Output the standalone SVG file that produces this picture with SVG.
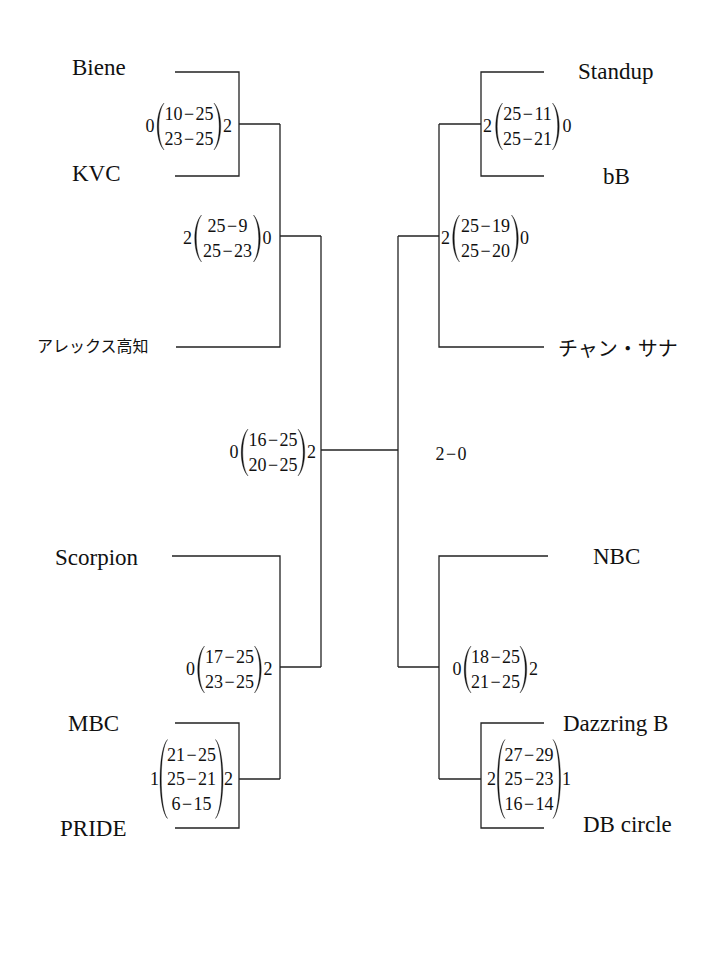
<svg xmlns="http://www.w3.org/2000/svg" xmlns:xlink="http://www.w3.org/1999/xlink" width="720" height="960" viewBox="0 0 720 960">
<style>
.ln{fill:none;stroke:#222;stroke-width:1.3}
.nm{font-size:23px;fill:#111}
.jp{fill:#111}
.sc{font-size:18px;fill:#111;text-anchor:middle;word-spacing:-3px}
.pr{fill:#111;stroke:#111;stroke-width:0.35}
</style>
<defs>
<path id="p2" class="pr" d="M0,-23.5 C-9,-14 -9,14 0,23.5 C-7,14 -7,-14 0,-23.5 Z"/>
<path id="p3" class="pr" d="M0,-39.5 C-10,-29 -10,29 0,39.5 C-8.3,29 -8.3,-29 0,-39.5 Z"/>
</defs>
<rect width="720" height="960" fill="#fff"/>

<g id="connectors">
<path class="ln" d="M175,72 H239 V176 H175"/>
<path class="ln" d="M239,124 H280"/>
<path class="ln" d="M176,347 H280 V124"/>
<path class="ln" d="M280,236 H321"/>
<path class="ln" d="M321,236 V667"/>
<path class="ln" d="M172,556 H280 V779"/>
<path class="ln" d="M280,667 H321"/>
<path class="ln" d="M175,723 H239 V828 H175"/>
<path class="ln" d="M239,779 H280"/>
<path class="ln" d="M321,450 H398"/>
<path class="ln" d="M398,236 V667"/>
<path class="ln" d="M398,236 H439"/>
<path class="ln" d="M439,124 V347 H544"/>
<path class="ln" d="M439,124 H481"/>
<path class="ln" d="M544,72 H481 V176 H544"/>
<path class="ln" d="M398,667 H439"/>
<path class="ln" d="M548,556 H439 V779"/>
<path class="ln" d="M439,779 H481"/>
<path class="ln" d="M544,723 H481 V828 H544"/>
</g>

<g font-family="'Liberation Serif', 'Times New Roman', serif">
<g id="team-biene"><text class="nm" x="72" y="75">Biene</text></g>
<g id="team-kvc"><text class="nm" x="72" y="181">KVC</text></g>
<g id="team-scorpion"><text class="nm" x="55" y="565">Scorpion</text></g>
<g id="team-mbc"><text class="nm" x="68" y="731">MBC</text></g>
<g id="team-pride"><text class="nm" x="60" y="836">PRIDE</text></g>
<g id="team-standup"><text class="nm" x="578" y="79">Standup</text></g>
<g id="team-bb"><text class="nm" x="603" y="184">bB</text></g>
<g id="team-nbc"><text class="nm" x="593" y="564">NBC</text></g>
<g id="team-dazzring"><text class="nm" x="563" y="731">Dazzring B</text></g>
<g id="team-dbcircle"><text class="nm" x="583" y="832">DB circle</text></g>
</g>
<g font-family="'Noto Sans CJK JP', 'Noto Sans', sans-serif">
<g id="team-alex"><text class="jp" x="37" y="352" font-size="16">アレックス高知</text></g>
<g id="team-chan"><text class="jp" x="558" y="356" font-size="20">チャン・サナ</text></g>
</g>

<g font-family="'Liberation Serif', 'Times New Roman', serif">
<g id="score-1" transform="translate(189,124)">
<text class="sc" x="-39" y="7.5">0</text>
<use xlink:href="#p2" transform="translate(-25,2.5)"/>
<text class="sc" x="0" y="-4">10 − 25</text>
<text class="sc" x="0" y="20.5">23 − 25</text>
<use xlink:href="#p2" transform="translate(25,2.5) scale(-1,1)"/>
<text class="sc" x="38.5" y="7.5">2</text>
</g>

<g id="score-2" transform="translate(227.5,236)">
<text class="sc" x="-40" y="7.5">2</text>
<use xlink:href="#p2" transform="translate(-26,2.5)"/>
<text class="sc" x="0" y="-4">25 − 9</text>
<text class="sc" x="0" y="20.5">25 − 23</text>
<use xlink:href="#p2" transform="translate(26,2.5) scale(-1,1)"/>
<text class="sc" x="39.5" y="7.5">0</text>
</g>

<g id="score-3" transform="translate(273,450)">
<text class="sc" x="-39" y="7.5">0</text>
<use xlink:href="#p2" transform="translate(-25,2.5)"/>
<text class="sc" x="0" y="-4">16 − 25</text>
<text class="sc" x="0" y="20.5">20 − 25</text>
<use xlink:href="#p2" transform="translate(25,2.5) scale(-1,1)"/>
<text class="sc" x="38.5" y="7.5">2</text>
</g>

<g id="final-score"><text class="sc" x="451" y="460">2 − 0</text></g>

<g id="score-4" transform="translate(229.5,667)">
<text class="sc" x="-39" y="7.5">0</text>
<use xlink:href="#p2" transform="translate(-25,2.5)"/>
<text class="sc" x="0" y="-4">17 − 25</text>
<text class="sc" x="0" y="20.5">23 − 25</text>
<use xlink:href="#p2" transform="translate(25,2.5) scale(-1,1)"/>
<text class="sc" x="38.5" y="7.5">2</text>
</g>

<g id="score-5" transform="translate(191.5,779)">
<text class="sc" x="-37" y="6">1</text>
<use xlink:href="#p3" transform="translate(-24,0)"/>
<text class="sc" x="0" y="-18">21 − 25</text>
<text class="sc" x="0" y="6">25 − 21</text>
<text class="sc" x="0" y="31">6 − 15</text>
<use xlink:href="#p3" transform="translate(24,0) scale(-1,1)"/>
<text class="sc" x="37" y="6">2</text>
</g>

<g id="score-6" transform="translate(527.5,124)">
<text class="sc" x="-40" y="7.5">2</text>
<use xlink:href="#p2" transform="translate(-25,2.5)"/>
<text class="sc" x="0" y="-4">25 − 11</text>
<text class="sc" x="0" y="20.5">25 − 21</text>
<use xlink:href="#p2" transform="translate(25,2.5) scale(-1,1)"/>
<text class="sc" x="39.5" y="7.5">0</text>
</g>

<g id="score-7" transform="translate(485.5,236)">
<text class="sc" x="-40" y="7.5">2</text>
<use xlink:href="#p2" transform="translate(-26,2.5)"/>
<text class="sc" x="0" y="-4">25 − 19</text>
<text class="sc" x="0" y="20.5">25 − 20</text>
<use xlink:href="#p2" transform="translate(26,2.5) scale(-1,1)"/>
<text class="sc" x="39" y="7.5">0</text>
</g>

<g id="score-8" transform="translate(495.5,667)">
<text class="sc" x="-38.5" y="7.5">0</text>
<use xlink:href="#p2" transform="translate(-24.5,2.5)"/>
<text class="sc" x="0" y="-4">18 − 25</text>
<text class="sc" x="0" y="20.5">21 − 25</text>
<use xlink:href="#p2" transform="translate(24.5,2.5) scale(-1,1)"/>
<text class="sc" x="38" y="7.5">2</text>
</g>

<g id="score-9" transform="translate(529,779)">
<text class="sc" x="-37.5" y="6">2</text>
<use xlink:href="#p3" transform="translate(-24,0)"/>
<text class="sc" x="0" y="-18">27 − 29</text>
<text class="sc" x="0" y="6">25 − 23</text>
<text class="sc" x="0" y="31">16 − 14</text>
<use xlink:href="#p3" transform="translate(24,0) scale(-1,1)"/>
<text class="sc" x="37.5" y="6">1</text>
</g>
</g>
</svg>
